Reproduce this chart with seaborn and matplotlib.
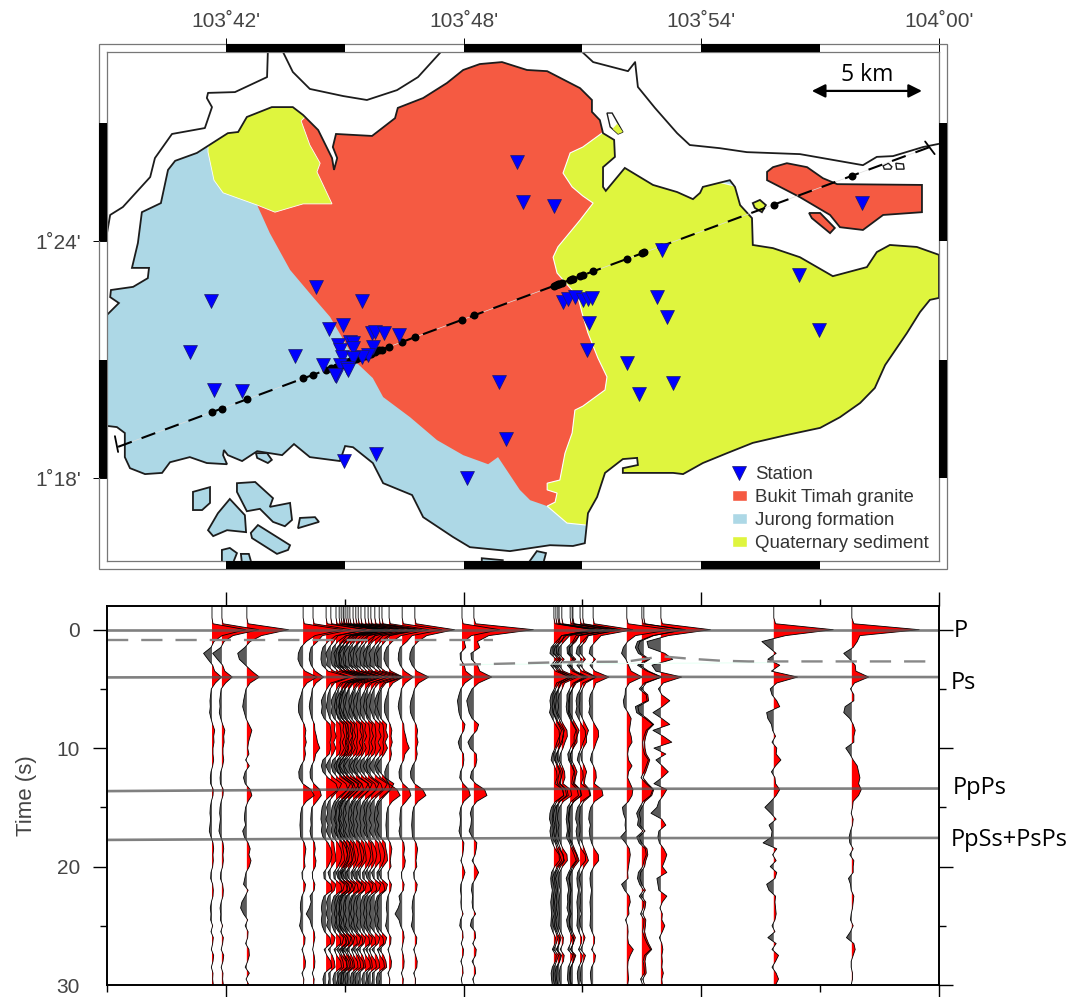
import numpy as np
import pandas as pd
import seaborn as sns
import matplotlib.pyplot as plt
from matplotlib.lines import Line2D
from matplotlib.patches import Patch, Polygon, Rectangle

# longitudes are arcmin past 103 deg, latitudes arcmin past 1 deg
LON_TICKS = [42, 48, 54, 60]
LON_LABELS = ["103˚42'", "103˚48'", "103˚54'", "104˚00'"]
LAT_TICKS = [18, 24]
LAT_LABELS = ["1˚18'", "1˚24'"]
TIME_TICKS = [0, 10, 20, 30]

ISLAND = [(39.00,22.13),(39.30,22.43),(39.08,22.58),(39.10,22.76),(39.66,22.84),(40.03,23.06),(40.06,23.32),
          (39.63,23.32),(39.78,23.95),(39.88,24.73),(40.36,24.96),(40.54,25.80),(40.72,26.03),(41.27,26.23),
          (42.05,26.73),(42.31,26.76),(42.53,27.14),(43.16,27.39),(43.69,27.39),(43.95,27.19),(44.33,26.81),
          (44.68,26.10),(44.73,25.80),(44.81,26.10),(44.70,26.38),(44.78,26.71),(45.69,26.66),(46.27,27.11),
          (46.34,27.37),(46.98,27.62),(47.58,28.00),(47.99,28.33),(48.41,28.48),(48.97,28.53),(49.60,28.33),
          (50.11,28.30),(50.94,27.87),(51.24,27.57),(51.24,27.27),(51.44,27.06),(51.52,26.73),(51.80,26.56),
          (51.82,26.13),(51.52,25.87),(51.52,25.37),(51.59,25.27),(52.07,25.85),(52.78,25.42),(53.39,25.24),
          (53.79,25.06),(53.97,25.22),(54.04,25.37),(54.72,25.54),(54.85,25.37),(54.98,24.91),(55.28,24.58),
          (55.30,23.90),(55.81,23.82),(56.49,23.59),(57.32,23.11),(58.18,23.34),(58.43,23.72),(58.76,23.90),
          (59.44,23.85),(60.00,23.65),(60.00,22.56),(59.77,22.51),(59.52,22.20),(59.19,21.67),(58.64,20.86),
          (58.38,20.28),(58.01,19.90),(57.50,19.54),(57.00,19.27),(56.16,19.09),(55.30,18.89),(54.65,18.63),
          (54.04,18.38),(53.54,18.10),(53.29,18.13),(52.96,18.13),(52.45,18.13),(52.02,18.13),(52.02,18.25),
          (52.40,18.33),(52.38,18.51),(52.02,18.48),(51.57,18.13),(51.37,17.52),(51.14,17.11),(51.06,16.35),
          (50.76,16.28),(50.18,16.30),(49.17,16.15),(48.16,16.25),(47.73,16.51),(46.98,17.01),(46.70,17.57),
          (45.97,17.87),(45.71,18.38),(45.21,18.78),(45.01,18.81),(44.88,18.43),(44.12,18.53),(43.72,18.86),
          (43.42,18.58),(42.79,18.68),(42.41,18.43),(42.05,18.58),(41.95,18.71),(41.93,18.58),(42.03,18.35),
          (41.52,18.38),(41.09,18.53),(40.59,18.40),(40.39,18.13),(39.96,18.10),(39.58,18.25),(39.45,18.53),
          (39.45,19.14),(39.25,19.29),(39.00,19.32)]
JOHOR_WEST = [(43.06,28.79),(43.04,28.15),(42.23,27.77),(41.55,27.75),(41.52,27.62),(41.65,27.39),(41.47,26.86),
              (40.64,26.71),(40.21,26.10),(40.09,25.62),(39.40,24.86),(39.08,24.66),(39.00,24.20)]
JOHOR_MID = [(43.44,28.79),(43.69,28.28),(44.12,27.85),(44.96,27.67),(45.56,27.57),(46.32,27.82),(46.85,28.15),(47.43,28.79)]
JOHOR_EAST = [(50.99,28.79),(51.27,28.53),(52.15,28.30),(52.33,28.53),(52.40,27.90),(52.83,27.37),(53.39,26.73),
              (53.71,26.43),(54.47,26.35),(55.15,26.25),(56.49,26.20),(58.08,25.92),(58.43,26.13),(58.84,26.15),
              (59.60,26.38),(60.00,26.46)]

# boundaries between the rock units
GRANITE_WEST = [(42.79,24.91),(43.11,24.20),(43.62,23.27),(44.20,22.58),(44.63,22.08),(45.31,20.91),(45.71,20.53),
                (45.97,20.05),(46.65,19.54),(47.33,18.96),(47.99,18.58),(48.62,18.35),(48.87,18.53),(49.42,17.70),
                (49.68,17.44),(50.11,17.29)]
GRANITE_EAST = [(50.31,17.39),(50.36,17.62),(50.11,17.70),(50.11,17.87),(50.43,17.95),(50.56,18.63),(50.74,19.14),
                (50.81,19.72),(51.01,19.82),(51.57,20.23),(51.62,20.56),(51.39,21.04),(51.14,21.67),(50.99,22.18),
                (50.89,22.58),(50.36,23.19),(50.26,23.59),(50.38,23.85),(50.94,24.53),(51.27,24.96),(51.01,25.14),
                (50.74,25.37),(50.51,25.72),(50.69,26.23),(51.01,26.38),(51.49,26.73)]
GRANITE_OUTER = [(51.9,27.2),(50.5,29.0),(44.0,29.0),(43.6,27.5),(43.6,25.0)]
SEDIMENT_OUTER = [(52.0,26.6),(54.0,25.6),(60.5,24.0),(60.5,18.0),(52.0,16.6),(51.09,16.81),(50.61,16.86)]
NW_SEDIMENT = [(41.55,26.25),(41.70,25.54),(41.93,25.22),(42.79,24.91),(43.24,24.73),(43.95,24.94),(44.68,24.94),
               (44.30,25.75),(44.38,25.97),(44.12,26.43),(43.90,27.04),(44.00,27.14),(44.0,28.0),(42.0,28.0),(41.55,26.7)]

GRANITE_ISLES = [
    [(55.66,25.75),(55.81,25.87),(56.16,25.97),(56.67,25.87),(57.07,25.59),(57.43,25.44),(59.57,25.42),(59.57,24.73),
     (58.59,24.66),(58.08,24.28),(57.50,24.35),(57.25,24.66),(56.49,25.11),(55.66,25.54)],
    [(56.72,24.71),(57.00,24.71),(57.37,24.33),(57.25,24.20),(56.79,24.58)],
]
SEDIMENT_ISLES = [
    [(55.30,24.96),(55.48,25.04),(55.63,24.91),(55.53,24.73),(55.35,24.84)],
]
NORTH_ISLET = [(51.62,27.24),(51.75,27.24),(52.02,26.76),(51.90,26.71),(51.70,26.89)]
NORTH_ISLET_SEDIMENT = [(52.02,26.76),(51.90,26.71),(51.76,26.84),(51.88,26.97)]
WHITE_ISLES = [
    [(58.59,25.90),(58.72,25.97),(58.81,25.88),(58.78,25.82),(58.62,25.82)],
    [(58.91,25.97),(59.10,25.95),(59.12,25.82),(58.93,25.82)],
]
JURONG_ISLES = [
    [(41.17,17.65),(41.60,17.77),(41.60,17.37),(41.40,17.19),(41.17,17.19)],
    [(42.28,17.87),(42.74,17.90),(43.19,17.49),(43.11,17.27),(43.62,17.37),(43.67,16.94),(43.49,16.78),(43.19,16.89),
     (42.86,17.22),(42.53,17.16),(42.28,17.65)],
    [(42.10,17.47),(42.48,17.06),(42.51,16.63),(42.03,16.68),(41.68,16.53),(41.55,16.68),(41.80,17.11)],
    [(42.81,16.81),(43.62,16.30),(43.57,16.18),(43.29,16.08),(42.66,16.48),(42.63,16.61)],
    [(43.87,16.99),(44.25,17.01),(44.35,16.89),(43.82,16.73)],
    [(41.90,16.18),(42.10,16.23),(42.28,16.10),(42.18,15.85),(41.90,15.85)],
    [(42.38,16.08),(42.58,16.08),(42.66,15.80),(42.41,15.80)],
    [(48.46,15.97),(48.99,15.92),(48.99,15.77),(48.46,15.77)],
    [(49.60,15.80),(49.85,16.15),(50.08,16.10),(50.00,15.80)],
    [(42.76,18.63),(43.04,18.63),(43.16,18.46),(43.06,18.38),(42.79,18.51)],
]

PROFILE_LON = [39.28, 59.77]
PROFILE_LAT = [18.79, 26.38]
# short bars across the two profile ends
END_BARS = [([39.20, 39.28], [19.06, 18.66]), ([59.65, 59.89], [26.52, 26.20])]

STATION_LON = [49.35,49.50,50.28,53.01,56.47,58.06,52.88,53.13,51.17,51.12,52.12,53.29,52.43,56.97,50.51,50.64,50.81,
               51.01,51.14,51.24,44.28,45.44,41.62,44.60,44.96,41.09,43.75,41.70,42.41,44.45,44.78,45.69,45.76,45.99,
               46.37,44.83,44.88,44.93,45.13,45.21,45.21,45.71,45.59,45.44,45.21,44.88,45.06,45.08,44.75,48.89,49.07,
               48.09,45.79,44.98]
STATION_LAT = [26.00,24.99,24.89,23.77,23.14,24.96,22.58,22.08,21.92,21.24,20.91,20.41,20.13,21.75,22.46,22.53,22.58,
               22.51,22.53,22.56,22.84,22.48,22.48,21.77,21.87,21.19,21.09,20.23,20.20,20.86,20.58,21.67,21.70,21.67,
               21.62,21.37,21.24,21.06,21.44,21.42,21.29,21.32,21.11,21.06,21.04,20.86,20.78,20.73,20.61,20.43,18.99,
               18.00,18.61,18.43]

# one wiggle per event along the profile
TRACE_LON = [41.65,41.90,42.53,43.95,44.20,44.53,44.65,44.78,44.86,44.91,44.96,44.98,45.03,45.08,45.13,45.21,45.28,
             45.34,45.41,45.51,45.59,45.66,45.76,45.87,45.94,46.12,46.45,46.77,47.96,48.26,50.28,50.33,50.38,50.41,
             50.48,50.69,50.74,50.76,50.94,51.01,51.27,52.12,52.50,52.55,52.98,55.83,57.80]
TRACE_LAT = [19.66,19.76,19.99,20.52,20.61,20.73,20.78,20.82,20.85,20.87,20.89,20.90,20.92,20.94,20.96,20.98,21.01,
             21.03,21.06,21.10,21.12,21.15,21.19,21.23,21.25,21.32,21.44,21.56,22.00,22.12,22.86,22.88,22.90,22.91,
             22.94,23.01,23.03,23.04,23.11,23.13,23.23,23.55,23.69,23.71,23.86,24.92,25.65]
TRACE_GAIN = [0.85,0.93,1.05,1.0,0.95,1.0,0.9,1.0,0.95,1.05,0.9,1.0,1.1,0.95,1.0,0.9,1.05,1.0,0.95,1.0,0.9,1.0,1.05,0.95,
              1.0,1.0,1.0,1.0,0.95,1.5,1.0,0.95,1.05,0.9,1.0,1.0,0.9,1.05,1.0,0.95,1.0,1.1,1.1,1.0,1.25,1.5,1.7]
TRACE_WAVE = ["west","west","west2","center","center2","cluster","cluster2","cluster","cluster2","cluster","cluster2",
              "cluster","cluster2","cluster","cluster2","cluster","cluster2","cluster","cluster2","cluster","cluster2",
              "cluster","cluster2","cluster","cluster2","center","center2","center","mid","mid","east","east2","east",
              "east2","east","east2","east","east2","east","east2","east","e627","e642","e642","e661","e774","e852"]

# samples at -2, -1, -0.5 then every 0.5 s up to 30 s, P peak is 1
TIME = np.r_[-2, -1, -0.5, np.arange(0, 30.5, 0.5)]
WAVES = {
    "west": [0,0,.03, 1,.3,.06,-.03,-.25,-.12,.02,
             .08,.28,.1,-.02,-.04,-.06,-.05,-.07,-.03,.02,
             .08,.05,.06,.03,.03,.05,.02,-.03,-.05,-.04,
             .04,.03,-.02,-.05,-.06,-.04,-.06,-.08,-.03,.03,
             .05,.03,.04,.02,-.03,-.04,.02,.04,.03,-.02,
             -.05,-.03,-.04,.02,-.03,.04,.02,-.02,.05,.03,
             -.02,.03,.02,.04],
    "west2": [0,0,.03, 1,.35,.08,-.05,-.22,-.18,-.03,
              .12,.3,.08,-.02,-.05,-.08,-.1,-.06,-.02,.05,
              .12,.08,.04,.02,.05,-.03,.06,-.04,-.08,-.04,
              .08,.12,.03,-.03,-.05,-.06,-.03,-.1,-.06,.03,
              .08,.05,.1,.06,-.02,-.05,-.08,.03,-.04,-.12,
              -.15,-.08,.02,-.04,.03,.02,-.03,.05,.06,.02,
              -.04,.06,-.02,.05],
    "center": [0,0,.03, 1,.3,.08,-.06,-.12,-.13,-.07,
               .05,.35,.1,-.01,-.05,-.1,-.12,-.11,-.05,.03,
               .07,.05,.08,.04,.06,.03,-.06,-.11,-.1,-.01,
               .2,.28,.08,-.03,-.06,-.07,-.08,-.07,-.06,.03,
               .07,.05,.03,.05,-.03,-.02,.06,.04,-.03,-.06,
               -.07,-.05,-.06,-.09,-.03,.05,.04,-.03,.02,.06,
               .05,-.03,.02,.01],
    "center2": [0,0,.03, 1,.25,.12,-.05,-.09,-.1,-.05,
                .06,.28,.08,-.02,-.04,-.08,-.1,-.07,-.03,.04,
                .05,.09,.12,.18,.07,.04,-.04,-.08,-.07,.02,
                .18,.22,.1,-.03,-.05,-.06,-.05,-.08,-.05,.04,
                .06,.04,.08,.06,-.02,-.01,.05,.03,-.08,-.05,
                -.1,-.18,-.08,-.04,.03,.05,.02,-.01,.03,.05,
                .04,-.02,.03,.02],
    "cluster": [0,0,.03, 1,.25,.05,-.08,-.12,-.13,-.1,
                .05,.6,.12,.02,-.06,-.12,-.1,-.12,-.05,.1,
                .12,.13,.1,.12,.08,-.08,-.12,-.08,.05,.25,
                .3,.12,-.04,-.1,-.12,-.13,-.1,-.12,-.08,.05,
                .12,.15,.12,.05,-.06,-.05,.12,.15,-.05,-.1,
                -.12,-.1,-.12,-.1,-.04,.1,.12,-.05,.02,.12,
                .14,-.04,-.08,-.06],
    "cluster2": [0,0,.03, 1,.2,.08,-.05,-.14,-.1,-.12,
                 .08,.55,.1,-.02,-.08,-.1,-.13,-.08,-.03,.12,
                 .1,.15,.08,.14,.06,-.05,-.14,-.06,.08,.3,
                 .22,.08,-.06,-.12,-.09,-.14,-.08,-.13,-.05,.08,
                 .1,.13,.14,.03,-.08,-.03,.14,.1,-.07,-.12,
                 -.1,-.13,-.08,-.12,-.02,.12,.08,-.07,.04,.1,
                 .12,-.06,-.05,-.08],
    "mid": [0,0,.03, 1,.25,.06,.1,-.05,-.04,.06,
            .1,.3,.08,-.03,-.08,-.12,-.1,-.08,-.03,.08,
            .05,-.04,-.1,-.06,.04,.05,.03,-.04,-.06,.03,
            .18,.22,.05,-.03,-.06,-.04,-.05,-.08,-.03,.05,
            .04,.02,-.03,.03,.08,.03,-.03,-.04,-.02,-.03,
            -.02,.03,-.04,-.06,.02,.03,-.02,.04,.03,-.03,
            .02,.03,-.02,.01],
    "east": [0,0,.03, 1,.2,.06,-.07,-.1,.06,-.08,
             .04,.4,.07,.01,-.07,-.1,-.08,-.11,-.04,.04,
             .13,.14,.08,.03,-.04,-.07,.01,.07,.08,.03,
             .22,.25,.04,-.06,-.1,-.11,-.07,-.1,-.08,-.04,
             .03,.13,.14,.02,-.06,-.08,-.07,-.04,-.06,-.08,
             -.07,-.06,-.07,-.08,-.03,.04,.03,-.04,.06,.04,
             -.04,-.07,-.06,-.04],
    "east2": [0,0,.03, 1,.15,.07,-.08,-.07,.07,-.07,
              .06,.36,.08,-.01,-.08,-.08,-.1,-.08,-.01,.07,
              .15,.1,.1,.01,-.06,-.04,.04,.1,.06,.04,
              .18,.21,.03,-.07,-.08,-.1,-.08,-.07,-.1,-.02,
              .04,.1,.15,.04,-.04,-.1,-.06,-.04,-.07,-.06,
              -.08,-.04,-.09,-.07,-.01,.06,.01,-.06,.07,.02,
              -.05,-.06,-.07,-.03],
    "e627": [0,0,.03, 1,.2,.02,-.08,-.12,-.02,.04,
             .1,.35,.06,-.03,-.04,-.08,-.06,.03,.1,.08,
             .06,.1,.12,.04,.02,.04,.12,.04,.02,.08,
             .14,.12,.04,-.1,-.08,-.03,-.04,-.02,-.14,-.03,
             .06,.08,.06,.04,.02,.03,-.12,-.05,.06,.08,
             .04,.05,-.03,.02,.03,.02,.04,.15,.08,.03,
             .02,.03,.04,.02],
    "e642": [0,0,.03, 1,.25,-.1,-.15,-.08,.15,-.1,
             .12,.45,.06,-.06,.1,.12,-.15,-.12,.08,.25,
             .1,.05,.02,.03,.06,.15,.1,.05,-.02,.1,
             .25,.2,.03,-.05,-.12,-.08,-.1,.03,-.12,-.06,
             .08,.1,.05,.02,-.08,-.1,-.05,.04,-.06,.05,
             .03,-.03,.05,.04,.02,.06,.12,.2,.06,.03,
             .05,.06,-.03,.02],
    "e661": [0,0,.03, 1,.15,-.28,-.25,.08,.24,-.18,
             -.1,.42,.05,-.05,.02,.18,.03,-.16,.02,.18,
             -.16,.05,.22,-.14,.1,-.1,.03,.15,.02,-.14,
             .12,.05,-.04,-.08,-.2,.02,.1,-.04,-.06,-.03,
             .06,.12,.08,.03,.12,-.08,-.06,-.04,.12,.03,
             -.02,.03,.02,.08,.03,-.03,.02,.04,.02,.03,
             .02,.05,.02,.03],
    "e774": [0,0,.03, 1,.2,-.2,-.08,.04,-.1,.1,
             -.04,.4,.05,-.06,-.03,.05,.1,-.12,-.1,-.04,
             -.02,.03,-.03,.05,.04,.12,.03,-.04,.02,.03,
             .1,.04,-.05,-.15,-.05,.04,-.08,-.03,-.04,-.18,
             .05,-.02,.04,-.06,.05,.02,-.12,-.08,.03,.02,
             .03,.04,.02,-.03,.02,-.1,.04,-.03,.08,.03,
             -.03,.04,.08,.03],
    "e852": [0,0,.03, 1,.12,.08,.02,-.12,-.03,.05,
             .06,.25,.04,-.02,.03,.03,-.1,-.12,-.03,.02,
             .05,.03,.03,-.09,-.03,.02,.08,.1,.12,.1,
             .14,.1,.02,.01,-.01,.02,.01,-.02,-.04,-.03,
             .02,-.03,.03,.02,.02,-.05,-.02,-.01,.03,.02,
             .01,-.01,-.02,.02,-.02,-.08,.03,.05,.02,-.01,
             -.01,.01,.01,-.01],
}

# picked phases, in seconds
PHASE_LON = [39, 45, 50, 60]
PHASE_P = [0.0, 0.0, 0.0, 0.0]
PHASE_PS = [4.03, 4.0, 3.98, 4.0]
PHASE_PPPS = [13.63, 13.5, 13.44, 13.41]
PHASE_PPSS = [17.75, 17.65, 17.6, 17.58]
DASH_W_LON = [39.0, 48.75]
DASH_W_TIME = [0.87, 0.87]
DASH_E_LON = [47.9, 50.8, 52.1, 53.0, 53.7, 54.5, 55.2, 60.0]
DASH_E_TIME = [2.96, 2.72, 2.7, 2.25, 2.45, 2.62, 2.68, 2.68]
PALE_LON = [47.9, 55.8]
PALE_TIME = [2.95, 2.78]
PHASE_LABEL_TIME = [0.15, 4.5, 13.35, 17.75]
PHASE_LABEL_LON = [60.38, 60.3, 60.35, 60.3]
PHASE_LABELS = ["P", "Ps", "PpPs", "PpSs+PsPs"]

RED = "#f55a42"
BLUE = "#add8e6"
YELLOW = "#dff53e"
TICK_COL = "#444444"
BLACK = "#000000"
COAST = "#1c1c1c"

sns.set_theme(style="ticks")
plt.rcParams["font.family"] = ["Liberation Sans", "DejaVu Sans"]

W, H = 1075, 997
fig = plt.figure(figsize=(W / 100, H / 100), dpi=100)
ax = fig.add_axes([107 / W, 1 - 561 / H, 832 / W, 509 / H])
ax2 = fig.add_axes([107 / W, 1 - 985 / H, 832 / W, 379 / H])


def fill(points, **kw):
    p = Polygon(points, closed=True, **kw)
    ax.add_patch(p)
    return p


# ---- map
ax.set_xlim(39, 60)
ax.set_ylim(15.9, 28.785)

land = fill(ISLAND, fc=BLUE, ec="none", zorder=1)
granite = fill(GRANITE_WEST + GRANITE_EAST + GRANITE_OUTER, fc=RED, ec="none", zorder=2)
granite.set_clip_path(land)
sediment = fill(GRANITE_WEST[-1:] + GRANITE_EAST + SEDIMENT_OUTER, fc=YELLOW, ec="white", lw=0.8, zorder=2.1)
sediment.set_clip_path(land)
nw = fill(NW_SEDIMENT, fc=YELLOW, ec="white", lw=0.6, zorder=2.2)
nw.set_clip_path(land)
fill(ISLAND, fc="none", ec=COAST, lw=1.3, zorder=3)
for isle in JURONG_ISLES:
    fill(isle, fc=BLUE, ec=COAST, lw=1.3, zorder=3)
for isle in GRANITE_ISLES:
    fill(isle, fc=RED, ec=COAST, lw=1.3, zorder=3)
for isle in SEDIMENT_ISLES:
    fill(isle, fc=YELLOW, ec=COAST, lw=1.3, zorder=3)
for isle in WHITE_ISLES:
    fill(isle, fc="white", ec=COAST, lw=1.0, zorder=3)
fill(NORTH_ISLET, fc="white", ec=COAST, lw=1.0, zorder=3)
fill(NORTH_ISLET_SEDIMENT, fc=YELLOW, ec="none", zorder=3)
for coast in [JOHOR_WEST, JOHOR_MID, JOHOR_EAST]:
    xy = np.array(coast)
    ax.plot(xy[:, 0], xy[:, 1], color=COAST, lw=1.3, zorder=3)

ax.plot(PROFILE_LON, PROFILE_LAT, color="#dddddd", lw=0.5, zorder=3.5)
sns.lineplot(x=PROFILE_LON, y=PROFILE_LAT, color=BLACK, lw=1.5, linestyle=(0, (7, 5)),
             estimator=None, sort=False, ax=ax, zorder=4)
for bar_lon, bar_lat in END_BARS:
    ax.plot(bar_lon, bar_lat, color=BLACK, lw=1.3, zorder=4)
sns.scatterplot(x=TRACE_LON, y=TRACE_LAT, color=BLACK, s=33, linewidth=0, ax=ax, zorder=5)
sns.scatterplot(x=STATION_LON, y=STATION_LAT, color="#0000ff", marker="v", s=100, edgecolor="#1a1a66",
                linewidth=0.5, ax=ax, zorder=6)

ax.annotate("", xy=(56.79, 27.80), xytext=(59.57, 27.80),
            arrowprops=dict(arrowstyle="<|-|>", color=BLACK, lw=1.6, mutation_scale=20, shrinkA=0, shrinkB=0), zorder=7)
ax.text(58.18, 28.2, "5 km", ha="center", va="center", fontsize=16.5, family="Open Sans", color=BLACK)

# GMT style frame round the map
BAND_X, BAND_Y = 0.2, 0.2
x0, x1 = ax.get_xlim()
y0, y1 = ax.get_ylim()
for m in [42, 48, 54]:
    for yb in [y0 - BAND_Y, y1]:
        ax.add_patch(Rectangle((m, yb), 3, BAND_Y, fc=BLACK, ec="none", clip_on=False, zorder=8))
for m in [18, 24]:
    for xb in [x0 - BAND_X, x1]:
        ax.add_patch(Rectangle((xb, m), BAND_X, 3, fc=BLACK, ec="none", clip_on=False, zorder=8))
ax.add_patch(Rectangle((x0 - BAND_X, y0 - BAND_Y), x1 - x0 + 2 * BAND_X, y1 - y0 + 2 * BAND_Y, fc="none",
                       ec="#777777", lw=0.9, clip_on=False, zorder=7))
for s in ax.spines.values():
    s.set_color("#777777")
    s.set_linewidth(0.9)
    s.set_zorder(7)

ax.xaxis.tick_top()
ax.set_xticks(LON_TICKS, LON_LABELS)
ax.set_yticks(LAT_TICKS, LAT_LABELS)
ax.tick_params(axis="both", length=10, width=0.7, color=BLACK, labelcolor=TICK_COL, labelsize=15)
ax.tick_params(axis="x", pad=5)
ax.tick_params(axis="y", pad=8.5)

handles = [Line2D([], [], ls="", marker="v", ms=10, mfc="#0000ff", mec="#1a1a66", mew=0.5, label="Station"),
           Patch(fc=RED, label="Bukit Timah granite"),
           Patch(fc=BLUE, label="Jurong formation"),
           Patch(fc=YELLOW, label="Quaternary sediment")]
ax.legend(handles=handles, loc="lower left", bbox_to_anchor=(0.7467, 0.010), frameon=False, fontsize=13.4,
          labelcolor="#333333", handlelength=0.8, handleheight=0.5, handletextpad=0.43, labelspacing=0.33,
          borderpad=0.2, borderaxespad=0).set_zorder(9)

# ---- wiggles
ax2.set_xlim(39, 60)
ax2.set_ylim(30, -2)

rows = []
for lon, gain, name in zip(TRACE_LON, TRACE_GAIN, TRACE_WAVE):
    amp = gain * np.array(WAVES[name])
    ax2.fill_betweenx(TIME, lon, lon + amp, where=amp >= 0, interpolate=True, color="#ff0000", lw=0, zorder=2)
    ax2.fill_betweenx(TIME, lon, lon + amp, where=amp <= 0, interpolate=True, color="#5a5a5a", lw=0, zorder=2)
    rows.append(pd.DataFrame({"lon": lon, "x": lon + amp, "time": TIME}))
traces = pd.concat(rows)
sns.lineplot(data=traces, x="x", y="time", units="lon", estimator=None, sort=False, color=BLACK, lw=0.6, ax=ax2, zorder=3)

for phase in [PHASE_P, PHASE_PS, PHASE_PPPS, PHASE_PPSS]:
    sns.lineplot(x=PHASE_LON, y=phase, color="#555555", lw=1.9, alpha=0.75, estimator=None, sort=False, ax=ax2, zorder=4)
ax2.plot(PALE_LON, PALE_TIME, color="#e8fff4", lw=0.8, zorder=4)
sns.lineplot(x=DASH_W_LON, y=DASH_W_TIME, color="#888888", lw=1.7, linestyle=(0, (9, 5.5)),
             estimator=None, sort=False, ax=ax2, zorder=4)
sns.lineplot(x=DASH_E_LON, y=DASH_E_TIME, color="#888888", lw=1.7, linestyle=(0, (9, 5.5)),
             estimator=None, sort=False, ax=ax2, zorder=4)

for lon, t, lab in zip(PHASE_LABEL_LON, PHASE_LABEL_TIME, PHASE_LABELS):
    ax2.text(lon, t, lab, ha="left", va="center", fontsize=17, family="Open Sans", color=BLACK, clip_on=False)

ax2.set_ylabel("Time (s)", fontsize=16, color=TICK_COL, labelpad=14)
ax2.set_xlabel("")
ax2.set_xticks(LON_TICKS, [])
ax2.set_xticks([39, 45, 51, 57], minor=True)
ax2.set_yticks(TIME_TICKS)
ax2.set_yticks([5, 15, 25], minor=True)
ax2.tick_params(which="major", length=10, width=1.0, color=BLACK, labelcolor=TICK_COL, labelsize=15, pad=9.5,
                top=True, right=True, bottom=True, left=True)
ax2.tick_params(which="minor", length=5, width=1.0, color=BLACK, top=True, right=True, bottom=True, left=True)
ax2.xaxis.get_minor_ticks()[0].tick2line.set_visible(False)
ax2.yaxis.get_major_ticks()[3].tick1line.set_visible(False)
for s in ax2.spines.values():
    s.set_color(BLACK)
    s.set_linewidth(1.4)
    s.set_visible(True)
    s.set_zorder(6)

fig.savefig("out.png", dpi=100)
